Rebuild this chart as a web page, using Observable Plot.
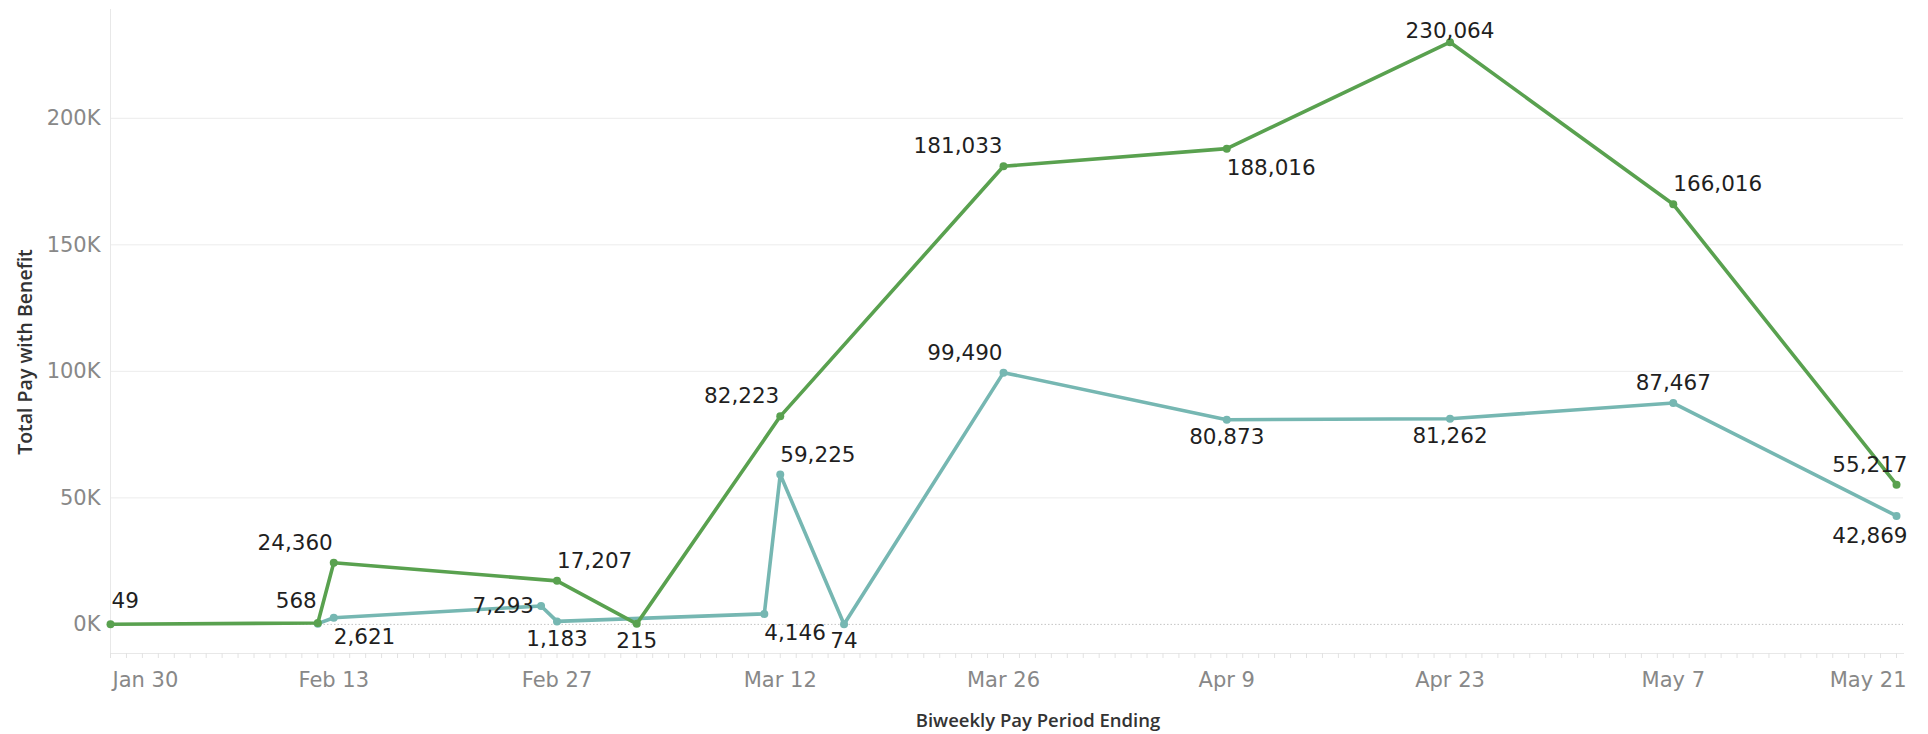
<!DOCTYPE html>
<html><head><meta charset="utf-8">
<script src="https://cdn.jsdelivr.net/npm/d3@7"></script>
<script src="https://cdn.jsdelivr.net/npm/@observablehq/plot@0.6"></script>
<style>html,body{margin:0;padding:0;background:#fff;} #chart svg{display:block;}</style>
</head><body><div id="chart"></div>
<script>
// ---- data ----
const greenDates  = ["2020-01-30","2020-02-12","2020-02-13","2020-02-27","2020-03-03","2020-03-12","2020-03-26","2020-04-09","2020-04-23","2020-05-07","2020-05-21"];
const greenValues = [49, 568, 24360, 17207, 215, 82223, 181033, 188016, 230064, 166016, 55217];
const tealDates   = ["2020-02-12","2020-02-13","2020-02-26","2020-02-27","2020-03-11","2020-03-12","2020-03-16","2020-03-26","2020-04-09","2020-04-23","2020-05-07","2020-05-21"];
const tealValues  = [300, 2621, 7293, 1183, 4146, 59225, 74, 99490, 80873, 81262, 87467, 42869];
const xTickDates  = ["2020-01-30","2020-02-13","2020-02-27","2020-03-12","2020-03-26","2020-04-09","2020-04-23","2020-05-07","2020-05-21"];
const xTickLabels = ["Jan 30","Feb 13","Feb 27","Mar 12","Mar 26","Apr 9","Apr 23","May 7","May 21"];
const yTickValues = [0, 50000, 100000, 150000, 200000];
const yTickLabels = ["0K","50K","100K","150K","200K"];
const xTitle = "Biweekly Pay Period Ending";
const yTitle = "Total Pay with Benefit";

// ---- label placement (style, kept apart from data) ----
const greenLabelPlacement = ["NE16","NW15","NW","NE","S","NW","NW","SE","N0","NE","NWr"];
const tealLabelPlacement  = [null,"SE","W","S","SE","NE","S","NW","S","S","N","SWr"];
const placements = {
  N:   {textAnchor:"middle", lineAnchor:"bottom", dx:0,  dy:-13},
  N0:  {textAnchor:"middle", lineAnchor:"bottom", dx:0,  dy:-4},
  NE:  {textAnchor:"start",  lineAnchor:"bottom", dx:0,  dy:-13},
  NE16:{textAnchor:"start",  lineAnchor:"bottom", dx:1,  dy:-16},
  NW:  {textAnchor:"end",    lineAnchor:"bottom", dx:-1, dy:-13},
  NW15:{textAnchor:"end",    lineAnchor:"bottom", dx:-1, dy:-15},
  NWr: {textAnchor:"end",    lineAnchor:"bottom", dx:11, dy:-13},
  S:   {textAnchor:"middle", lineAnchor:"top",    dx:0,  dy:9},
  SE:  {textAnchor:"start",  lineAnchor:"top",    dx:0,  dy:11},
  SWr: {textAnchor:"end",    lineAnchor:"top",    dx:11, dy:12},
  W:   {textAnchor:"end",    lineAnchor:"middle", dx:-7, dy:0}
};

const parse = d3.utcParse("%Y-%m-%d");
const green = greenDates.map((d,i)=>({date:parse(d), value:greenValues[i], pos:greenLabelPlacement[i]}));
const teal  = tealDates.map((d,i)=>({date:parse(d), value:tealValues[i], pos:tealLabelPlacement[i]}));
const xTicks = xTickDates.map(parse);
const GREEN = "#59a14f", TEAL = "#76b7b2";
const fmt = d3.format(",");

function labelMarks(data){
  return Object.entries(placements).map(([k,p]) =>
    Plot.text(data.filter(d=>d.pos===k), {x:"date", y:"value", text:d=>fmt(d.value),
      textAnchor:p.textAnchor, lineAnchor:p.lineAnchor, dx:p.dx, dy:p.dy,
      fill:"#1f1f1f", fontSize:21.5}));
}

const xStart = parse("2020-01-30");
const xEnd = new Date(parse("2020-05-21").getTime() + 10.5*3600*1000);
const dayTicks = d3.utcDay.range(xStart, parse("2020-05-22"));
const tickColor = "#888";

const chart = Plot.plot({
  width: 1928, height: 734,
  marginLeft: 110, marginRight: 25, marginTop: 9, marginBottom: 81,
  style: {fontFamily: "DejaVu Sans", fontSize: "20px", background: "#fff"},
  x: {type:"utc", domain:[xStart, xEnd]},
  y: {domain:[-11500, 243000]},
  marks: [
    Plot.gridY(yTickValues.filter(d=>d!==0), {stroke:"#ececec", strokeOpacity:1}),
    Plot.frame({anchor:"left", stroke:"#e8e8e8"}),
    Plot.frame({anchor:"bottom", stroke:"#e8e8e8"}),
    Plot.ruleY([0], {stroke:"#c4c4c4", strokeDasharray:"1.5,2"}),
    Plot.axisX({ticks: dayTicks, tickSize: 5, tickFormat: () => "", stroke:"#e2e2e2"}),
    Plot.axisY({ticks: yTickValues, tickSize: 0, tickPadding: 10, label: null,
      tickFormat: d => yTickLabels[yTickValues.indexOf(d)], fill:tickColor, fontSize:21}),
    Plot.axisX({ticks: xTicks.slice(1,-1), tickSize: 0, tickPadding: 19, label: null,
      tickFormat: d => xTickLabels[xTicks.findIndex(t=>+t===+d)], fill:tickColor, fontSize:21}),
    Plot.axisX({ticks: xTicks.slice(0,1), tickSize: 0, tickPadding: 19, label: null, textAnchor:"start", dx:2,
      tickFormat: d => xTickLabels[0], fill:tickColor, fontSize:21}),
    Plot.axisX({ticks: xTicks.slice(-1), tickSize: 0, tickPadding: 19, label: null, textAnchor:"end", dx:10,
      tickFormat: d => xTickLabels[xTickLabels.length-1], fill:tickColor, fontSize:21}),
    Plot.line(teal, {x:"date", y:"value", stroke:TEAL, strokeWidth:3.6}),
    Plot.dot(teal, {x:"date", y:"value", fill:TEAL, r:4}),
    Plot.line(green, {x:"date", y:"value", stroke:GREEN, strokeWidth:3.6}),
    Plot.dot(green, {x:"date", y:"value", fill:GREEN, r:4}),
    ...labelMarks(teal),
    ...labelMarks(green)
  ]
});

const svg = d3.select(chart);
svg.append("text").text(xTitle)
  .attr("x", 1038).attr("y", 727).attr("text-anchor","middle")
  .attr("font-family","Open Sans").attr("font-weight",600).attr("font-size",18.5).attr("fill","#333");
svg.append("text").text(yTitle)
  .attr("transform","translate(32,352) rotate(-90)").attr("text-anchor","middle")
  .attr("font-family","Open Sans").attr("font-weight",600).attr("font-size",19.5).attr("fill","#333");

document.getElementById("chart").appendChild(chart);
</script>
</body></html>
